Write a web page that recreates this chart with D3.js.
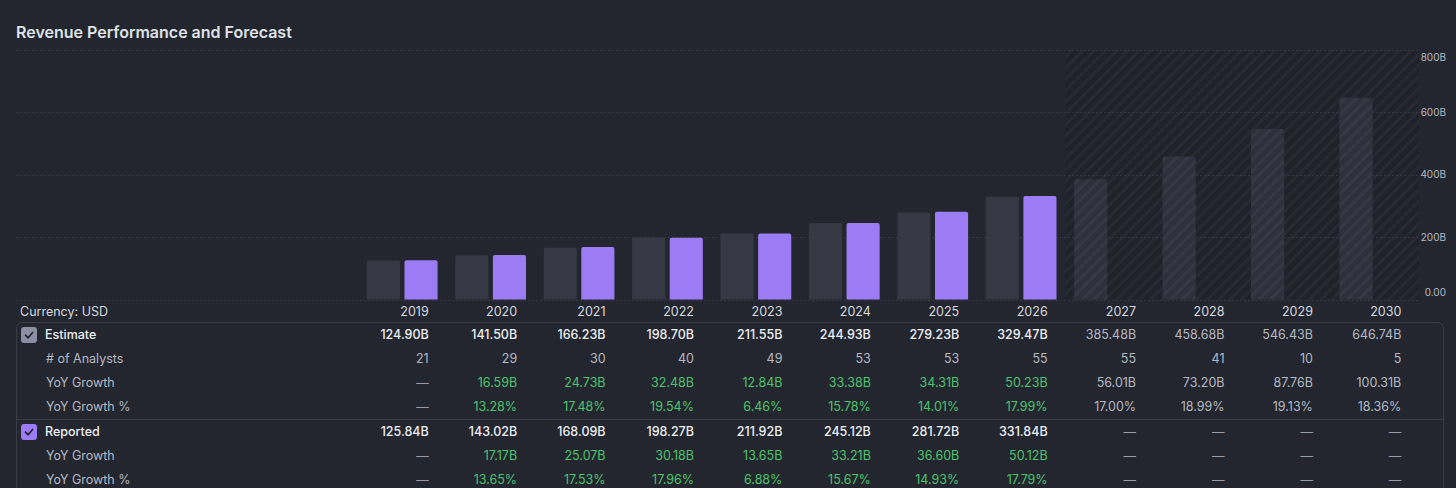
<!DOCTYPE html>
<html>
<head>
<meta charset="utf-8">
<script src="https://cdn.jsdelivr.net/npm/d3@7"></script>
<style>
  html, body { margin: 0; padding: 0; background: #23262e; }
  svg { display: block; font-family: Inter, "Noto Sans", sans-serif; }
</style>
</head>
<body>
<svg id="chart"></svg>
<script>
// values in billions USD
const years = ['2019', '2020', '2021', '2022', '2023', '2024', '2025', '2026', '2027', '2028', '2029', '2030']
const firstForecast = '2027'
const estimate = [124.90, 141.50, 166.23, 198.70, 211.55, 244.93, 279.23, 329.47, 385.48, 458.68, 546.43, 646.74]
const analysts = [21, 29, 30, 40, 49, 53, 53, 55, 55, 41, 10, 5]
const estGrowth = [null, 16.59, 24.73, 32.48, 12.84, 33.38, 34.31, 50.23, 56.01, 73.20, 87.76, 100.31]
const estGrowthPct = [null, 13.28, 17.48, 19.54, 6.46, 15.78, 14.01, 17.99, 17.00, 18.99, 19.13, 18.36]
const reported = [125.84, 143.02, 168.09, 198.27, 211.92, 245.12, 281.72, 331.84, null, null, null, null]
const repGrowth = [null, 17.17, 25.07, 30.18, 13.65, 33.21, 36.60, 50.12, null, null, null, null]
const repGrowthPct = [null, 13.65, 17.53, 17.96, 6.88, 15.67, 14.93, 17.79, null, null, null, null]
const yTicks = [0, 200, 400, 600, 800]

const width = 1456; const height = 488
const svg = d3.select('#chart').attr('width', width).attr('height', height)

const col = {
  bg: '#23262e',
  grid: '#353842',
  est: '#363944',
  rep: '#9c7cf4',
  fcBar: '#2f323c',
  white: '#eceef2',
  muted: '#b4b8c3',
  dash: '#9a9eaa',
  green: '#4cc46d',
  border: '#3a3e48'
}

const plotLeft = 16; const plotRight = 1419
const x = d3.scaleBand().domain(years).range([358, plotRight]).paddingInner(0.2).paddingOuter(0.1)
const xSub = d3.scaleBand().domain(['est', 'rep']).range([0, x.bandwidth()]).paddingInner(0.12)
const y = d3.scaleLinear().domain([0, 800]).range([299.5, 50])
const isForecast = (yr) => years.indexOf(yr) >= years.indexOf(firstForecast)
const colRight = (yr) => x(yr) + x.step() * 0.7

const defs = svg.append('defs')
const hatch = (id, base, stripe) => {
  const p = defs.append('pattern').attr('id', id)
    .attr('patternUnits', 'userSpaceOnUse')
    .attr('width', 8).attr('height', 8)
    .attr('patternTransform', 'rotate(45)')
  p.append('rect').attr('width', 8).attr('height', 8).attr('fill', base)
  p.append('rect').attr('width', 3).attr('height', 8).attr('fill', stripe)
}
hatch('hatchArea', '#1f2229', '#272a32')
hatch('hatchBar', '#2e313b', '#363944')

// title
svg.append('text').attr('x', 16).attr('y', 38)
  .attr('font-size', 16).attr('font-weight', 600).attr('fill', '#dfe2e8')
  .text('Revenue Performance and Forecast')

// forecast area
const fcStart = x(firstForecast) - x.step() * x.paddingInner() / 2
svg.append('rect')
  .attr('x', fcStart).attr('y', y(800))
  .attr('width', plotRight - fcStart).attr('height', y(0) - y(800))
  .attr('fill', 'url(#hatchArea)')

// gridlines + y labels
svg.append('g').selectAll('line').data(yTicks).enter().append('line')
  .attr('x1', plotLeft).attr('x2', plotRight)
  .attr('y1', d => Math.round(y(d)) + 0.5).attr('y2', d => Math.round(y(d)) + 0.5)
  .attr('stroke', col.grid).attr('stroke-dasharray', '2,2')

svg.append('g').selectAll('text').data(yTicks).enter().append('text')
  .attr('x', 1446).attr('text-anchor', 'end')
  .attr('y', d => Math.min(Math.max(y(d), 57), 292))
  .attr('dy', '0.35em')
  .attr('font-size', 10).attr('fill', col.muted)
  .text(d => d === 0 ? '0.00' : d + 'B')

// bars
const barPath = (x0, y0, w, h, r) => {
  r = Math.min(r, h)
  return `M${x0},${y0 + h}V${y0 + r}Q${x0},${y0} ${x0 + r},${y0}H${x0 + w - r}Q${x0 + w},${y0} ${x0 + w},${y0 + r}V${y0 + h}Z`
}
const groups = svg.append('g').selectAll('g').data(years).enter().append('g')
  .attr('transform', d => `translate(${x(d)},0)`)

groups.append('path')
  .attr('d', (d, i) => barPath(xSub('est'), y(estimate[i]), xSub.bandwidth(), y(0) - y(estimate[i]), 2))
  .attr('fill', d => isForecast(d) ? 'url(#hatchBar)' : col.est)

groups.filter((d, i) => reported[i] != null).append('path')
  .attr('d', d => {
    const v = reported[years.indexOf(d)]
    return barPath(xSub('rep'), y(v), xSub.bandwidth(), y(0) - y(v), 2)
  })
  .attr('fill', col.rep)

// table
const table = svg.append('g')
table.append('text').attr('x', 20).attr('y', 312).attr('dy', '0.35em')
  .attr('font-size', 12.5).attr('fill', '#d5d8df').text('Currency: USD')
table.selectAll('text.year').data(years).enter().append('text')
  .attr('class', 'year')
  .attr('x', d => colRight(d)).attr('y', 312).attr('dy', '0.35em')
  .attr('text-anchor', 'end').attr('font-size', 12.5).attr('fill', '#d5d8df')
  .text(d => d)

table.append('rect')
  .attr('x', 16.5).attr('y', 322.5).attr('width', 1427).attr('height', 220).attr('rx', 6)
  .attr('fill', 'none').attr('stroke', col.border)
table.append('line')
  .attr('x1', 16.5).attr('x2', 1443.5).attr('y1', 419.5).attr('y2', 419.5)
  .attr('stroke', col.border)

const fmtB = v => v.toFixed(2) + 'B'
const fmtP = v => v.toFixed(2) + '%'
const DASH = '—'

const rows = [
  { label: 'Estimate', head: true, box: '#8b8fa3', y: 335, values: estimate, fmt: fmtB, kind: 'main' },
  { label: '# of Analysts', y: 359, values: analysts, fmt: v => String(v), kind: 'muted' },
  { label: 'YoY Growth', y: 383, values: estGrowth, fmt: fmtB, kind: 'growth' },
  { label: 'YoY Growth %', y: 407, values: estGrowthPct, fmt: fmtP, kind: 'growth' },
  { label: 'Reported', head: true, box: col.rep, y: 432, values: reported, fmt: fmtB, kind: 'main' },
  { label: 'YoY Growth', y: 456, values: repGrowth, fmt: fmtB, kind: 'growth' },
  { label: 'YoY Growth %', y: 480, values: repGrowthPct, fmt: fmtP, kind: 'growth' }
]

const cellColor = (row, v, yr) => {
  if (v == null) return col.dash
  if (row.kind === 'muted') return col.muted
  if (isForecast(yr)) return col.muted
  return row.kind === 'main' ? col.white : col.green
}

rows.forEach(row => {
  if (row.head) {
    table.append('rect').attr('x', 21).attr('y', row.y - 8).attr('width', 16).attr('height', 16)
      .attr('rx', 3).attr('fill', row.box)
    table.append('path')
      .attr('d', `M25.5,${row.y + 0.2}L28.2,${row.y + 2.8}L32.6,${row.y - 2.6}`)
      .attr('fill', 'none').attr('stroke', '#1f2229').attr('stroke-width', 1.6)
      .attr('stroke-linecap', 'round').attr('stroke-linejoin', 'round')
  }
  table.append('text')
    .attr('x', row.head ? 45 : 46).attr('y', row.y).attr('dy', '0.35em')
    .attr('font-size', 12.5).attr('font-weight', row.head ? 500 : 400)
    .attr('fill', row.head ? col.white : col.muted)
    .text(row.label)
  table.append('g').selectAll('text').data(years).enter().append('text')
    .attr('x', d => colRight(d)).attr('y', row.y).attr('dy', '0.35em')
    .attr('text-anchor', 'end').attr('font-size', 12.5)
    .attr('font-weight', (d, i) => row.kind === 'main' && !isForecast(d) && row.values[i] != null ? 500 : 400)
    .attr('fill', (d, i) => cellColor(row, row.values[i], d))
    .text((d, i) => row.values[i] == null ? DASH : row.fmt(row.values[i]))
})
</script>
</body>
</html>
